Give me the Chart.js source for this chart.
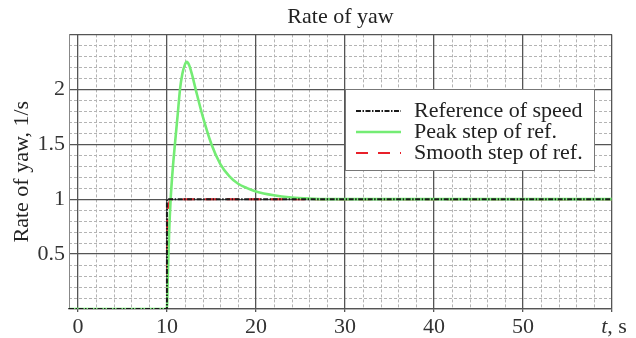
<!DOCTYPE html>
<html>
<head>
<meta charset="utf-8">
<script src="https://cdn.jsdelivr.net/npm/chart.js@4.4.0/dist/chart.umd.min.js"></script>
<style>
  html, body { margin: 0; padding: 0; background: #fff; }
</style>
</head>
<body>
<canvas id="myChart" width="636" height="338"></canvas>
<script>
// values
const timeRef = [-1, 10, 10, 60];
const rateRef = [0, 0, 1, 1];

const timePeak = [-1, 10, 10.1, 10.25, 10.42, 10.65, 10.9, 11.2, 11.47, 11.73, 12.0, 12.22, 12.5, 12.8, 13.23, 14.0, 15.0, 16.0, 17.0, 18.0, 19.0, 20.0, 22.0, 24.0, 26.0, 28.0, 60];
const ratePeak = [0, 0, 0.3, 0.7, 1.0, 1.27, 1.5, 1.76, 2.0, 2.14, 2.22, 2.25, 2.22, 2.14, 2.0, 1.76, 1.5, 1.32, 1.21, 1.14, 1.10, 1.07, 1.035, 1.015, 1.005, 1.0, 1.0];

const timeSmooth = [-1, 10, 10.05, 10.15, 10.3, 10.6, 60];
const rateSmooth = [0, 0, 0.8, 0.93, 0.98, 1.0, 1.0];

const seriesNames = ['Reference of speed', 'Peak step of ref.', 'Smooth step of ref.'];
const chartTitle = 'Rate of yaw';
const yTitle = 'Rate of yaw, 1/s';

const serif = "'Liberation Serif', 'Times New Roman', serif";

function toPoints(xs, ys) {
    return xs.map((x, i) => ({ x: x, y: ys[i] }));
}

// dotted minor grid under the major grid
const minorGrid = {
    id: 'minorGrid',
    beforeDraw(chart) {
        const ctx = chart.ctx;
        const a = chart.chartArea;
        const xs = chart.scales.x;
        const ys = chart.scales.y;
        ctx.save();
        ctx.strokeStyle = '#b4b4b4';
        ctx.lineWidth = 1;
        ctx.setLineDash([3, 2]);
        for (let v = 2; v < 60; v += 2) {
            if (v % 10 === 0) continue;
            const px = Math.round(xs.getPixelForValue(v)) + 0.5;
            ctx.beginPath();
            ctx.moveTo(px, a.top);
            ctx.lineTo(px, a.bottom);
            ctx.stroke();
        }
        for (let k = 1; k < 25; k++) {
            if (k % 5 === 0) continue;
            const py = Math.round(ys.getPixelForValue(k / 10)) + 0.5;
            ctx.beginPath();
            ctx.moveTo(a.left, py);
            ctx.lineTo(a.right, py);
            ctx.stroke();
        }
        ctx.restore();
    }
};

// legend box inside the plot + "t, s" axis label
const extras = {
    id: 'extras',
    afterDraw(chart) {
        const ctx = chart.ctx;
        const xs = chart.scales.x;
        ctx.save();

        // legend
        const bx = 345, by = 89, bw = 249, bh = 81;
        ctx.fillStyle = '#fff';
        ctx.fillRect(bx, by, bw, bh);
        ctx.strokeStyle = '#777';
        ctx.lineWidth = 1;
        ctx.setLineDash([]);
        ctx.strokeRect(bx + 0.5, by + 0.5, bw, bh);

        ctx.font = '22px ' + serif;
        ctx.textBaseline = 'middle';
        ctx.textAlign = 'left';
        const rows = [111, 132, 153];
        chart.data.datasets.forEach((ds, i) => {
            const y = rows[i];
            ctx.strokeStyle = ds.borderColor;
            ctx.lineWidth = ds.borderWidth;
            ctx.setLineDash(ds.borderDash || []);
            ctx.beginPath();
            ctx.moveTo(356, y);
            ctx.lineTo(401, y);
            ctx.stroke();
            ctx.fillStyle = '#222';
            ctx.fillText(ds.label, 414, y);
        });

        // x axis name at the last tick
        const px = xs.getPixelForValue(60);
        ctx.textBaseline = 'alphabetic';
        ctx.fillStyle = '#333';
        ctx.font = 'italic 22px ' + serif;
        const tw = ctx.measureText('t').width;
        ctx.font = '22px ' + serif;
        const rw = ctx.measureText(', s').width;
        const start = px - (tw + rw) / 2 + 2;
        ctx.font = 'italic 22px ' + serif;
        ctx.fillText('t', start, 333);
        ctx.font = '22px ' + serif;
        ctx.fillText(', s', start + tw, 333);
        ctx.restore();
    }
};

const config = {
    type: 'line',
    data: {
        datasets: [
            {
                label: seriesNames[0],
                data: toPoints(timeRef, rateRef),
                borderColor: '#1a1a1a',
                borderWidth: 2,
                borderDash: [5, 1.5, 1.5, 1.5],
                pointRadius: 0,
                tension: 0
            },
            {
                label: seriesNames[1],
                data: toPoints(timePeak, ratePeak),
                borderColor: '#74ec74',
                borderWidth: 2.6,
                pointRadius: 0,
                cubicInterpolationMode: 'monotone'
            },
            {
                label: seriesNames[2],
                data: toPoints(timeSmooth, rateSmooth),
                borderColor: '#e8202a',
                borderWidth: 2,
                borderDash: [12, 10],
                pointRadius: 0,
                cubicInterpolationMode: 'monotone'
            }
        ]
    },
    options: {
        responsive: false,
        animation: false,
        devicePixelRatio: 1,
        layout: {
            padding: { left: 0, right: 24, top: 0, bottom: 0 }
        },
        plugins: {
            legend: { display: false },
            tooltip: { enabled: false },
            title: {
                display: true,
                text: chartTitle,
                fullSize: false,
                color: '#222',
                font: { family: serif, size: 22, weight: 'normal' },
                padding: { top: 4, bottom: 4 }
            }
        },
        scales: {
            x: {
                type: 'linear',
                min: -1,
                max: 60,
                afterFit: function(scale) { scale.height = 29; },
                ticks: {
                    stepSize: 10,
                    includeBounds: false,
                    autoSkip: false,
                    maxRotation: 0,
                    padding: 2,
                    color: '#333',
                    font: { family: serif, size: 22 },
                    callback: function(v) { return v === 60 ? '' : String(v); }
                },
                grid: {
                    color: '#555',
                    lineWidth: 1.3,
                    tickLength: 3,
                    tickColor: '#555'
                },
                border: { color: '#555', width: 1.3 }
            },
            y: {
                min: 0,
                max: 2.5,
                afterFit: function(scale) { scale.width = 69; },
                ticks: {
                    stepSize: 0.5,
                    padding: 4,
                    color: '#333',
                    font: { family: serif, size: 22 },
                    callback: function(v) { return (v === 0 || v === 2.5) ? '' : String(v); }
                },
                grid: {
                    color: '#555',
                    lineWidth: 1.3,
                    drawTicks: false
                },
                border: { color: '#888', width: 1 },
                title: {
                    display: true,
                    text: yTitle,
                    color: '#222',
                    font: { family: serif, size: 22 },
                    padding: { top: 9, bottom: 0 }
                }
            }
        }
    },
    plugins: [minorGrid, extras]
};

window.chart = new Chart(document.getElementById('myChart'), config);
</script>
</body>
</html>
